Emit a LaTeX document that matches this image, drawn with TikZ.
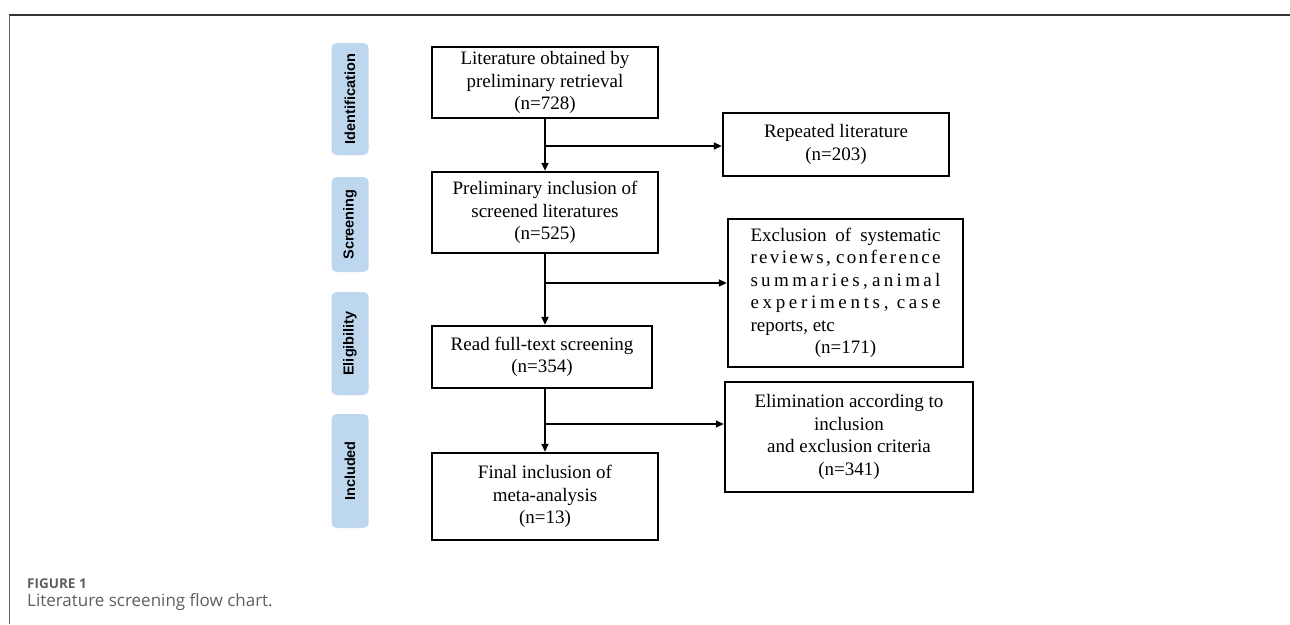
\documentclass[tikz,border=0pt]{standalone}
\usepackage{fontspec}
\setmainfont{Liberation Serif}
\newfontfamily\phasefont{Liberation Sans}
\newfontfamily\capfont{Open Sans}
\usetikzlibrary{positioning,arrows.meta}

\definecolor{phaseblue}{RGB}{189,215,238}
\definecolor{capgray}{RGB}{95,95,95}

% one line of letter-spaced text, spread to the given width
\newcommand{\spreadline}[2]{{\spaceskip=0pt plus 1fil\xspaceskip=0pt plus 1fil\makebox[#1][s]{#2}}}

\begin{document}
\begin{tikzpicture}[x=1pt,y=-1pt,>={Triangle[length=8pt,width=7pt]},
	box/.style={draw,line width=2.4pt,align=center,inner sep=2pt,
		font=\fontsize{19}{22.5}\selectfont},
	phase/.style={fill=phaseblue,rounded corners=5pt,rotate=90,minimum height=37pt,
		inner sep=0pt,font=\phasefont\bfseries\fontsize{14.5}{17}\selectfont},
	arr/.style={->,line width=1.8pt}]
			
			\useasboundingbox (0,0) rectangle (1290,624);
			
			% frame and caption
			\draw[line width=1.6pt,black!80] (9,15) -- (1290,15);
			\draw[line width=1pt,black!60] (9,15) -- (9,624);
			\node[anchor=base west,inner sep=0pt,text=capgray,font=\capfont\bfseries\fontsize{13.5}{16}\selectfont] (fig) at (27,588) {FIGURE 1};
			\node[anchor=base west,inner sep=0pt,text=capgray,font=\capfont\fontsize{17}{20}\selectfont] (cap) at (27,606) {Literature screening flow chart.};
			
			% phases
			\node[phase,minimum width=112pt] (ident) at (350,99) {Identification};
			\node[phase,minimum width=95pt] (scrn) at (350,224.5) {Screening};
			\node[phase,minimum width=103pt] (elig) at (350,343.5) {Eligibility};
			\node[phase,minimum width=114pt] (incl) at (350,471) {Included};
			
			% main boxes
			\node[box,minimum width=226pt,minimum height=71pt] (lit) at (545,82.5) {Literature obtained by\\preliminary retrieval\\(n=728)};
			\node[box,minimum width=226pt,minimum height=81pt] (prelim) at (545,212.5) {Preliminary inclusion of\\screened literatures\\(n=525)};
			\node[box,minimum width=220pt,minimum height=62pt] (full) at (542,357) {Read full-text screening\\(n=354)};
			\node[box,minimum width=226pt,minimum height=87pt] (final) at (545,496.5) {Final inclusion of\\meta-analysis\\(n=13)};
			
			% excluded boxes
			\node[box,minimum width=226pt,minimum height=63pt] (rep) at (836,144.5) {Repeated literature\\(n=203)};
			\node[box,minimum width=235pt,minimum height=148pt] (excl) at (845.5,293) {%
				\makebox[190pt][s]{Exclusion of systematic}\\
				\spreadline{190pt}{r e v i e w s , \hfil c o n f e r e n c e}\\
				\spreadline{190pt}{s u m m a r i e s , a n i m a l}\\
				\spreadline{190pt}{e x p e r i m e n t s , \hfil c a s e}\\
				\makebox[190pt][l]{reports, etc}\\
				(n=171)};
			\node[box,minimum width=248pt,minimum height=110pt] (elim) at (849,437) {Elimination according to\\inclusion\\and exclusion criteria\\(n=341)};
			
			% branch points
			\coordinate (j1) at (545,146);
			\coordinate (j2) at (545,283);
			\coordinate (j3) at (545,424);
			
			\draw[arr] (lit) -- (prelim);
			\draw[arr] (prelim.south) -- (prelim.south |- full.north);
			\draw[arr] (prelim.south |- full.south) -- (final.north);
			
			\draw[arr] (j1) -- (j1 -| rep.west);
			\draw[arr] (j2) -- (j2 -| excl.west);
			\draw[arr] (j3) -- (j3 -| elim.west);
			
		\end{tikzpicture}
\end{document}
